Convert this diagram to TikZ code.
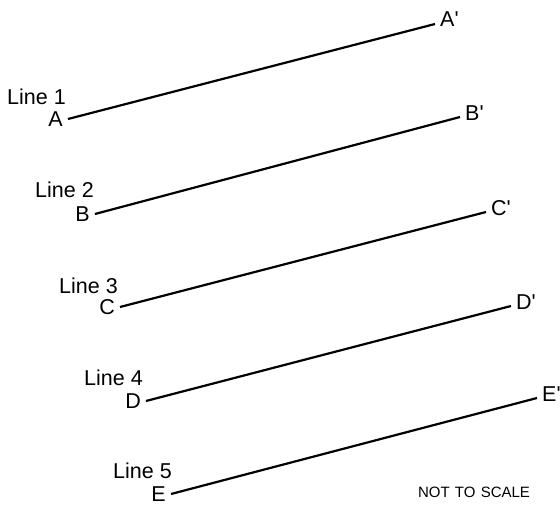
\documentclass[tikz,border=0pt]{standalone}
\usepackage{fontspec}
\setmainfont{Liberation Sans}[Ligatures=TeXOff]
\begin{document}
\begin{tikzpicture}[x=1pt,y=-1pt,
  lbl/.style={font=\fontsize{21.5}{24}\selectfont, inner ysep=0pt},
  startlbl/.style={lbl, anchor=east, inner xsep=5pt},
  endlbl/.style={lbl, anchor=west, inner xsep=5pt},
  linelbl/.style={lbl, anchor=east, inner xsep=0pt},
  seg/.style={line width=2.2pt, black}]
\useasboundingbox (0,0) rectangle (560,508);
% Line 1
\node[startlbl] (A) at (68,119) {A};
\node[endlbl] (Ap) at (435,19) {A'};
\node[linelbl] (L1) at (66,97) {Line 1};
\draw[seg] (A.east) -- ([yshift=-5pt]Ap.west);
% Line 2
\node[startlbl] (B) at (95,214) {B};
\node[endlbl] (Bp) at (460,113) {B'};
\node[linelbl] (L2) at (94,190) {Line 2};
\draw[seg] (B.east) -- ([yshift=-4pt]Bp.west);
% Line 3
\node[startlbl] (C) at (120,307) {C};
\node[endlbl] (Cp) at (486,208) {C'};
\node[linelbl] (L3) at (118,286) {Line 3};
\draw[seg] (C.east) -- ([yshift=-4pt]Cp.west);
% Line 4
\node[startlbl] (D) at (146,401) {D};
\node[endlbl] (Dp) at (511,302) {D'};
\node[linelbl] (L4) at (143,378) {Line 4};
\draw[seg] (D.east) -- ([yshift=-4pt]Dp.west);
% Line 5
\node[startlbl] (E) at (171,494) {E};
\node[endlbl] (Ep) at (537,394) {E'};
\node[linelbl] (L5) at (172,471) {Line 5};
\draw[seg] (E.east) -- ([yshift=-4pt]Ep.west);
% note
\node[font=\fontsize{15}{17}\selectfont, inner sep=0pt] (note) at (474,492) {NOT\hspace{0.35em}TO\hspace{0.35em}SCALE};
\end{tikzpicture}
\end{document}
